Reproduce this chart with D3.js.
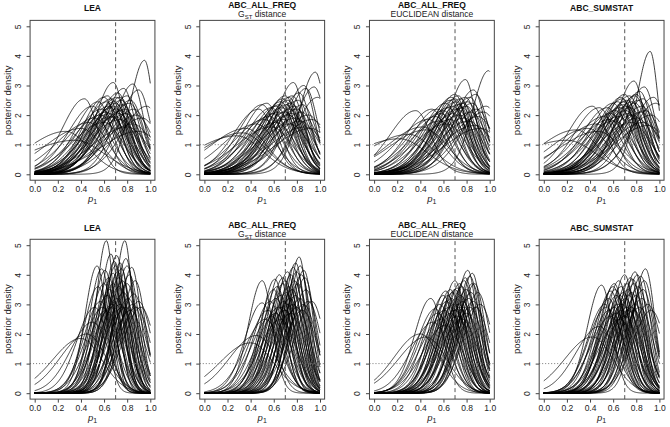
<!DOCTYPE html>
<html><head><meta charset="utf-8">
<script src="https://cdn.jsdelivr.net/npm/d3@7"></script>
<style>body{margin:0;background:#fff}svg{display:block}text{font-family:"Liberation Sans",Arial,sans-serif}</style>
</head><body><svg id="c" width="670" height="427"></svg>
<script>
// ---- data: each curve = [mode of p1, peak posterior density] ----
const titles = ["LEA", "ABC_ALL_FREQ", "ABC_ALL_FREQ", "ABC_SUMSTAT"];
const subtitles = [null, "GST", "EUCLIDEAN distance", null];
const xTicks = [0, 0.2, 0.4, 0.6, 0.8, 1.0];
const yTicks = [0, 1, 2, 3, 4, 5];
const trueP1 = 0.7;

const leaTop = [[0.95,3.85],[0.85,3.05],[0.90,2.85],[0.77,2.90],[0.68,3.10],[0.72,2.75],[0.80,2.65],[0.74,2.60],[0.66,2.55],[0.62,2.45],[0.60,2.60],[0.55,2.45],[0.43,2.55],[0.50,2.30],[0.58,2.20],[0.64,2.30],[0.70,2.40],[0.76,2.35],[0.82,2.40],[0.86,2.20],[0.88,2.00],[0.93,1.90],[0.97,2.30],[0.79,2.05],[0.75,2.15],[0.71,2.20],[0.67,2.25],[0.65,2.05],[0.62,2.10],[0.57,2.00],[0.52,1.90],[0.47,1.75],[0.40,1.55],[0.27,1.45],[0.35,1.15],[0.60,1.75],[0.70,1.95],[0.74,1.85],[0.80,1.60],[0.85,1.70],[0.90,1.45],[0.66,1.95],[0.73,2.05],[0.78,2.20],[0.69,2.45],[0.63,2.65],[0.71,2.60],[0.83,2.50],[0.75,2.50],[0.68,2.30]];
const gstTop = [[0.96,3.45],[0.77,3.10],[0.86,3.00],[0.88,2.90],[0.82,2.75],[0.70,2.65],[0.73,2.60],[0.54,2.40],[0.50,2.35],[0.47,2.20],[0.33,1.40],[0.58,2.25],[0.62,2.30],[0.66,2.45],[0.68,2.55],[0.72,2.50],[0.75,2.40],[0.78,2.30],[0.80,2.20],[0.84,2.10],[0.90,2.00],[0.93,1.85],[0.98,2.60],[0.64,2.10],[0.60,2.05],[0.56,1.95],[0.52,1.85],[0.45,1.70],[0.36,1.55],[0.70,2.10],[0.74,2.20],[0.76,2.05],[0.79,1.90],[0.83,1.80],[0.87,1.60],[0.92,1.55],[0.67,2.25],[0.71,2.35],[0.73,2.00],[0.65,2.35],[0.69,1.85],[0.62,1.75],[0.81,2.50],[0.85,2.35],[0.76,2.65],[0.74,1.70],[0.58,1.60],[0.28,1.30],[0.95,2.95]];
const eucTop = [[0.99,3.50],[0.79,3.20],[0.86,2.85],[0.88,2.70],[0.83,2.60],[0.70,2.70],[0.73,2.65],[0.36,2.15],[0.50,2.20],[0.55,2.20],[0.62,2.40],[0.66,2.50],[0.68,2.30],[0.71,2.45],[0.75,2.55],[0.77,2.40],[0.80,2.30],[0.84,2.10],[0.90,1.95],[0.95,2.10],[0.60,2.15],[0.58,2.05],[0.53,1.95],[0.47,1.85],[0.42,1.60],[0.30,1.35],[0.22,1.20],[0.64,2.25],[0.69,2.05],[0.72,2.20],[0.74,2.00],[0.78,1.90],[0.82,1.80],[0.87,1.65],[0.92,1.55],[0.66,1.85],[0.63,1.70],[0.76,2.25],[0.81,2.45],[0.85,2.40],[0.70,2.55],[0.67,2.60],[0.73,2.35],[0.79,2.60],[0.57,1.80],[0.45,1.50],[0.97,2.30],[0.89,2.20]];
const sumTop = [[0.92,4.15],[0.78,3.15],[0.87,2.95],[0.83,2.80],[0.80,2.70],[0.70,2.70],[0.74,2.65],[0.67,2.60],[0.42,2.30],[0.55,2.25],[0.48,2.25],[0.60,2.40],[0.64,2.45],[0.72,2.50],[0.76,2.45],[0.79,2.40],[0.85,2.30],[0.88,2.15],[0.93,2.00],[0.97,2.40],[0.62,2.15],[0.58,2.05],[0.52,1.95],[0.45,1.70],[0.38,1.55],[0.28,1.50],[0.20,1.15],[0.66,2.25],[0.69,2.35],[0.71,2.15],[0.73,2.05],[0.77,2.00],[0.81,1.90],[0.86,1.75],[0.90,1.65],[0.65,1.95],[0.61,1.80],[0.75,2.25],[0.82,2.50],[0.86,2.55],[0.70,2.45],[0.68,2.55],[0.72,2.30],[0.79,2.65],[0.57,1.85],[0.47,1.45],[0.95,2.60],[0.84,2.10],[0.76,1.75]];
const leaBot = [[0.62,5.15],[0.78,5.15],[0.54,4.30],[0.66,4.70],[0.71,4.65],[0.79,4.55],[0.84,4.25],[0.58,4.20],[0.61,4.15],[0.55,3.60],[0.50,2.40],[0.45,2.00],[0.40,1.85],[0.70,4.30],[0.74,4.40],[0.68,4.05],[0.76,3.80],[0.80,3.70],[0.86,3.35],[0.90,3.10],[0.64,3.90],[0.60,3.70],[0.72,4.10],[0.69,4.45],[0.75,4.20],[0.82,4.00],[0.65,3.50],[0.63,3.30],[0.57,3.10],[0.52,2.90],[0.73,3.60],[0.77,3.40],[0.81,3.20],[0.85,3.00],[0.88,2.90],[0.67,3.00],[0.71,3.20],[0.74,3.00],[0.79,2.90],[0.70,3.00],[0.66,2.90],[0.62,2.80],[0.76,2.90],[0.83,2.80],[0.92,2.90],[0.59,2.90],[0.68,3.70],[0.73,3.90],[0.80,4.30],[0.87,3.80]];
const gstBot = [[0.82,4.60],[0.77,4.25],[0.86,4.15],[0.80,4.10],[0.84,4.00],[0.50,3.80],[0.50,3.05],[0.45,1.95],[0.40,1.70],[0.65,4.00],[0.72,4.10],[0.75,4.00],[0.60,3.50],[0.63,3.60],[0.68,3.70],[0.70,3.80],[0.73,3.60],[0.78,3.80],[0.81,3.70],[0.88,3.50],[0.66,3.30],[0.62,3.20],[0.57,3.10],[0.55,2.80],[0.71,3.40],[0.76,3.50],[0.79,3.30],[0.83,3.20],[0.86,3.00],[0.90,3.10],[0.69,3.10],[0.74,3.20],[0.67,2.90],[0.64,2.90],[0.72,3.00],[0.77,3.00],[0.80,2.90],[0.85,2.80],[0.70,2.80],[0.62,2.70],[0.58,2.60],[0.66,2.50],[0.75,2.70],[0.83,4.30],[0.79,4.40],[0.68,3.90],[0.61,3.85],[0.87,3.90],[0.93,3.10],[0.53,2.50]];
const eucBot = [[0.81,4.15],[0.85,4.05],[0.83,3.95],[0.79,3.90],[0.49,3.20],[0.53,2.85],[0.62,3.45],[0.66,3.50],[0.74,3.70],[0.78,3.80],[0.70,3.50],[0.40,2.00],[0.45,1.90],[0.60,3.30],[0.64,3.30],[0.68,3.40],[0.72,3.55],[0.76,3.60],[0.87,3.70],[0.90,3.40],[0.57,3.00],[0.55,2.70],[0.63,3.10],[0.67,3.20],[0.71,3.20],[0.75,3.30],[0.80,3.50],[0.84,3.40],[0.69,3.00],[0.73,3.00],[0.77,3.10],[0.82,3.20],[0.86,3.10],[0.65,2.90],[0.61,2.80],[0.70,2.80],[0.74,2.90],[0.78,2.90],[0.83,2.90],[0.88,2.90],[0.66,2.70],[0.72,2.60],[0.58,2.50],[0.80,2.70],[0.76,2.50],[0.62,2.30],[0.92,3.00],[0.70,3.80],[0.85,3.70],[0.51,2.40]];
const sumBot = [[0.88,4.20],[0.79,4.10],[0.81,4.00],[0.84,3.95],[0.50,3.65],[0.70,4.00],[0.65,3.80],[0.60,3.60],[0.75,3.90],[0.77,3.85],[0.48,2.25],[0.42,1.90],[0.56,3.20],[0.58,3.45],[0.62,3.50],[0.67,3.60],[0.72,3.70],[0.73,3.50],[0.78,3.70],[0.82,3.60],[0.86,3.50],[0.63,3.30],[0.66,3.30],[0.69,3.40],[0.71,3.20],[0.74,3.30],[0.76,3.40],[0.80,3.30],[0.85,3.20],[0.90,3.00],[0.54,2.90],[0.57,2.80],[0.61,2.90],[0.64,3.00],[0.68,3.00],[0.72,2.90],[0.76,2.90],[0.79,3.00],[0.83,2.90],[0.68,2.80],[0.63,2.70],[0.73,2.80],[0.78,2.80],[0.58,2.60],[0.70,2.60],[0.66,2.50],[0.93,2.80],[0.53,3.00],[0.87,3.80],[0.61,3.70]];

const panels = [
  {row:0,col:0,curves:leaTop},{row:0,col:1,curves:gstTop},{row:0,col:2,curves:eucTop},{row:0,col:3,curves:sumTop},
  {row:1,col:0,curves:leaBot},{row:1,col:1,curves:gstBot},{row:1,col:2,curves:eucBot},{row:1,col:3,curves:sumBot}
];

// ---- layout ----
const colX0 = [34.7, 204.4, 374.1, 543.8];   // pixel of p1 = 0
const xSpan = 115.6;                          // pixels from p1=0 to p1=1
const rowY0 = [174.3, 393.2];                 // pixel of density 0
const ySpan = 148;                            // pixels from density 0 to 5
const rowSkew = [1.7, 1.35];                  // left/right spread ratio of curves per row
const rowNu = [20, 60];                       // tail heaviness of the curve profile per row

const svg = d3.select("#c");
const grid = d3.range(0, 1.0001, 0.004);

function lgamma(z) { // Stirling series, z > 1
  return (z - 0.5) * Math.log(z) - z + 0.5 * Math.log(2 * Math.PI) + 1 / (12 * z) - 1 / (360 * z * z * z);
}
function curvePoints(m, h, skew, nu) {
  const c = Math.sqrt(nu * Math.PI) * Math.exp(lgamma(nu / 2) - lgamma((nu + 1) / 2));
  const tot = 2 / (h * c);
  const sR = tot / (1 + skew), sL = tot - sR;
  return grid.map(x => {
    const s = x < m ? sL : sR;
    const t = (x - m) / s;
    return [x, h * Math.pow(1 + t * t / nu, -(nu + 1) / 2)];
  });
}

panels.forEach((p, i) => {
  const x0 = colX0[p.col], y0 = rowY0[p.row];
  const x = d3.scaleLinear().domain([0, 1]).range([x0, x0 + xSpan]);
  const y = d3.scaleLinear().domain([0, 5]).range([y0, y0 - ySpan]);
  const g = svg.append("g");
  const bx0 = x(-0.04), bx1 = x(1.04), by0 = y(-0.2), by1 = y(5.2);

  const clipId = "clip" + i;
  g.append("clipPath").attr("id", clipId).append("rect")
    .attr("x", bx0).attr("y", by1).attr("width", bx1 - bx0).attr("height", by0 - by1);

  const line = d3.line().x(d => x(d[0])).y(d => y(d[1]));
  const cg = g.append("g").attr("clip-path", `url(#${clipId})`);
  cg.selectAll("path.c").data(p.curves).join("path").attr("class", "c")
    .attr("d", d => line(curvePoints(d[0], d[1], rowSkew[p.row], rowNu[p.row])))
    .attr("fill", "none").attr("stroke", "#000").attr("stroke-width", 0.75);

  // reference lines
  cg.append("line").attr("x1", bx0).attr("x2", bx1).attr("y1", y(1)).attr("y2", y(1))
    .attr("stroke", "#777").attr("stroke-width", 1).attr("stroke-dasharray", "1,2");
  cg.append("line").attr("x1", x(trueP1)).attr("x2", x(trueP1)).attr("y1", by0).attr("y2", by1)
    .attr("stroke", "#555").attr("stroke-width", 1).attr("stroke-dasharray", "4,3");

  // box
  g.append("rect").attr("x", bx0).attr("y", by1).attr("width", bx1 - bx0).attr("height", by0 - by1)
    .attr("fill", "none").attr("stroke", "#444").attr("stroke-width", 1);

  // axes
  const xa = g.append("g").attr("transform", `translate(0,${by0})`)
    .call(d3.axisBottom(x).tickValues(xTicks).tickFormat(d3.format(".1f")).tickSize(3.5).tickPadding(2.5));
  const ya = g.append("g").attr("transform", `translate(${bx0},0)`)
    .call(d3.axisLeft(y).tickValues(yTicks).tickFormat(d3.format("d")).tickSize(3.5).tickPadding(3));
  [xa, ya].forEach(a => {
    a.select(".domain").remove();
    a.selectAll(".tick line").attr("stroke", "#444");
    a.selectAll("text").attr("font-size", 8.5).attr("fill", "#222");
  });
  ya.selectAll(".tick text").attr("text-anchor", "middle").attr("dy", 0)
    .attr("transform", function () { const xx = +d3.select(this).attr("x"); return `translate(${xx - 2.5},0) rotate(-90)`; })
    .attr("x", 0).attr("y", 0);

  // axis labels
  g.append("text").attr("transform", `translate(${bx0 - 19},${(by0 + by1) / 2}) rotate(-90)`)
    .attr("text-anchor", "middle").attr("font-size", 9.5).attr("fill", "#222").text("posterior density");
  const xl = g.append("text").attr("x", (bx0 + bx1) / 2).attr("y", by0 + 22)
    .attr("text-anchor", "middle").attr("font-size", 9.5).attr("fill", "#222");
  xl.append("tspan").attr("font-style", "italic").text("p");
  xl.append("tspan").attr("font-size", 7).attr("dy", 2).text("1");

  // titles
  const cx = (bx0 + bx1) / 2, rowOff = p.row * 220;
  const sub = subtitles[p.col];
  g.append("text").attr("x", cx).attr("y", (sub ? 7.5 : 11) + rowOff).attr("text-anchor", "middle")
    .attr("font-size", 8.5).attr("font-weight", "bold").attr("fill", "#111").text(titles[p.col]);
  if (sub) {
    const st = g.append("text").attr("x", cx).attr("y", 17 + rowOff).attr("text-anchor", "middle")
      .attr("font-size", 8.5).attr("fill", "#222");
    if (sub === "GST") {
      st.append("tspan").text("G");
      st.append("tspan").attr("font-size", 6).attr("dy", 1.5).text("ST");
      st.append("tspan").attr("dy", -1.5).text(" distance");
    } else st.text(sub);
  }
});
</script></body></html>
